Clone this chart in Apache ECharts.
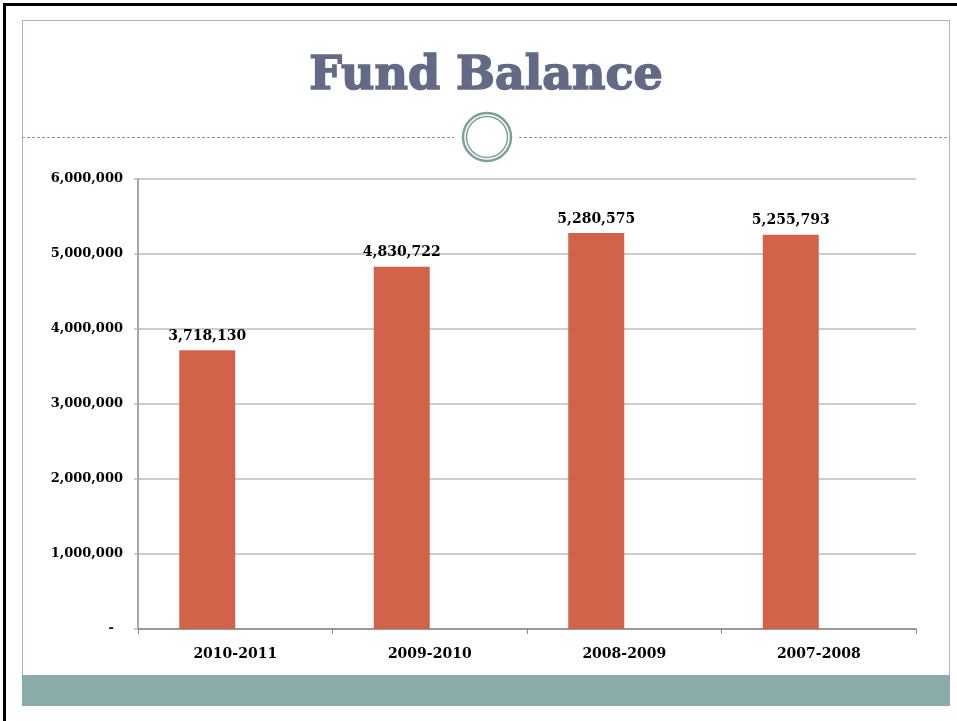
<!DOCTYPE html>
<html>
<head>
<meta charset="utf-8">
<title>Fund Balance</title>
<script src="https://cdn.jsdelivr.net/npm/echarts@6/dist/echarts.min.js"></script>
<style>
  html, body { margin: 0; padding: 0; background: #fff; }
  #chart { width: 957px; height: 721px; }
</style>
</head>
<body>
<div id="chart"></div>
<script>
	var years = ['2010-2011', '2009-2010', '2008-2009', '2007-2008'];
	var balances = [3718130, 4830722, 5280575, 5255793];
	var emptySeries = ['-', '-', '-', '-'];

	var serif = '"DejaVu Serif", serif';
	var teal = '#8aacaa';

	function fmt(v) {
		if (v === 0) return '-\u00a0\u00a0';
		return v.toLocaleString('en-US');
	}

	var myChart = echarts.init(document.getElementById('chart'));
	var option = {
		animation: false,
		graphic: [
			// black frame of the slide window
			{ type: 'rect', z: -10, shape: { x: 3, y: 3, width: 960, height: 3 }, style: { fill: '#000' } },
			{ type: 'rect', z: -10, shape: { x: 3, y: 3, width: 3, height: 730 }, style: { fill: '#000' } },
			// slide border
			{ type: 'rect', z: -9, shape: { x: 22.5, y: 20.5, width: 927, height: 685 }, style: { fill: '#fff', stroke: '#9dbab8', lineWidth: 1 } },
			// bottom band
			{ type: 'rect', z: -8, shape: { x: 22, y: 675, width: 928, height: 31 }, style: { fill: teal } },
			// title
			{
				type: 'text', z: 5,
				style: {
					x: 486, y: 77, text: 'Fund Balance',
					font: 'bold 46px ' + serif, fill: '#636a85',
					stroke: '#636a85', lineWidth: 1.6,
					textAlign: 'center', textVerticalAlign: 'middle'
				}
			},
			// dashed divider
			{ type: 'line', z: -7, shape: { x1: 22, y1: 137.5, x2: 454, y2: 137.5 }, style: { stroke: '#7f9f9d', lineWidth: 1, lineDash: [3, 2] } },
			{ type: 'line', z: -7, shape: { x1: 519, y1: 137.5, x2: 950, y2: 137.5 }, style: { stroke: '#7f9f9d', lineWidth: 1, lineDash: [3, 2] } },
			{ type: 'circle', z: -7, shape: { cx: 487, cy: 137, r: 24 }, style: { fill: '#fff', stroke: '#7f9f9d', lineWidth: 2.5 } },
			{ type: 'circle', z: -7, shape: { cx: 487, cy: 137, r: 20.5 }, style: { fill: 'none', stroke: '#7f9f9d', lineWidth: 1.5 } }
		],
		grid: {
			left: 138,
			right: 41,
			top: 179,
			bottom: 92,
			containLabel: false
		},
		xAxis: {
			type: 'category',
			data: years,
			axisLine: { lineStyle: { color: '#888', width: 1.5 } },
			axisTick: { show: true, length: 5, lineStyle: { color: '#888' } },
			axisLabel: {
				margin: 18,
				color: '#000',
				fontFamily: serif,
				fontWeight: 'bold',
				fontSize: 14
			}
		},
		yAxis: {
			type: 'value',
			min: 0,
			max: 6000000,
			interval: 1000000,
			axisLine: { show: true, lineStyle: { color: '#888', width: 1.5 } },
			axisTick: { show: true, length: 4, lineStyle: { color: '#bdbdbd', width: 1.5 } },
			splitLine: { lineStyle: { color: '#bdbdbd', width: 1.5 } },
			axisLabel: {
				margin: 15,
				color: '#000',
				fontFamily: serif,
				fontWeight: 'bold',
				fontSize: 13,
				formatter: fmt
			}
		},
		series: [
			{
				name: 'Fund Balance',
				type: 'bar',
				data: balances,
				barWidth: 56,
				barGap: '0%',
				itemStyle: { color: '#d2634a' },
				label: {
					show: true,
					position: 'top',
					distance: 7,
					color: '#000',
					fontFamily: serif,
					fontWeight: 'bold',
					fontSize: 14,
					formatter: function (p) { return fmt(p.value); }
				}
			},
			{
				name: 'blank',
				type: 'bar',
				data: emptySeries,
				barWidth: 56,
				barGap: '0%'
			}
		]
	};
	myChart.setOption(option, true);
</script>
</body>
</html>
